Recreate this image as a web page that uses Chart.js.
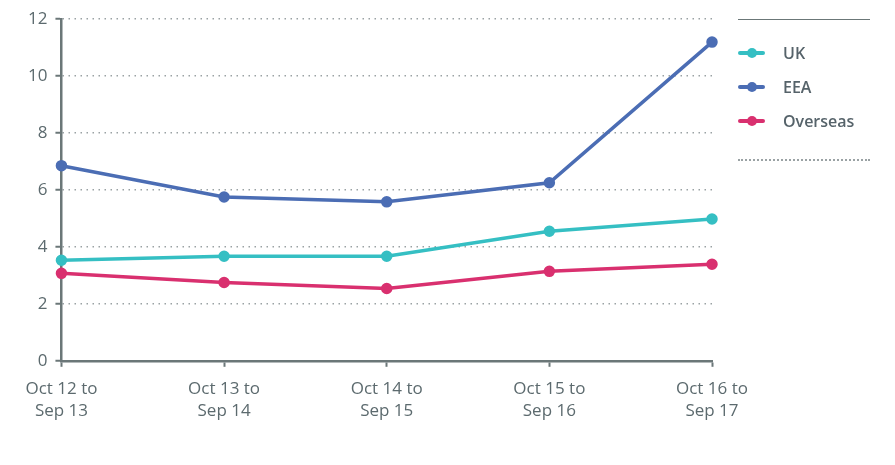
<!DOCTYPE html>
<html>
<head>
<meta charset="utf-8">
<script src="https://cdn.jsdelivr.net/npm/chart.js@4"></script>
<style>
  body { margin: 0; background: #fff; }
  #wrap { position: relative; width: 895px; height: 465px; }
  #legend { position: absolute; left: 738px; top: 19px; width: 132px; font-family: "Open Sans", sans-serif; }
  #legend .top { border-top: 1.5px solid #6b7778; height: 0; margin-bottom: 16px; }
  #legend .bottom { border-top: 2px dotted #9aa2a4; margin-top: 21px; }
  #legend .item { height: 34px; display: flex; align-items: center; font-size: 16px; font-weight: 600; color: #56636a; }
  #legend .mark { position: relative; width: 27px; height: 4px; border-radius: 2px; margin-right: 18px; }
  #legend .mark span { position: absolute; left: 9px; top: -3px; width: 10px; height: 10px; border-radius: 5px; }
</style>
</head>
<body>
<div id="wrap">
  <canvas id="lineChart1" width="895" height="465"></canvas>
  <div id="legend"></div>
</div>
<script>
const categories = [
  ["Oct 12 to", "Sep 13"],
  ["Oct 13 to", "Sep 14"],
  ["Oct 14 to", "Sep 15"],
  ["Oct 15 to", "Sep 16"],
  ["Oct 16 to", "Sep 17"],
];
const ukValues = [3.53, 3.67, 3.67, 4.55, 4.98];
const eeaValues = [6.85, 5.75, 5.58, 6.25, 11.19];
const overseasValues = [3.07, 2.75, 2.54, 3.14, 3.39];
const seriesNames = ["UK", "EEA", "Overseas"];
const seriesColors = ["#35bfc3", "#4b6db4", "#d9306f"]; // teal, blue, pink

const axisColor = "#6b7778";
const textColor = "#5c6a6e";

function makeSet(i, values) {
  return {
    label: seriesNames[i],
    data: values,
    borderColor: seriesColors[i],
    backgroundColor: seriesColors[i],
    borderWidth: 3.5,
    pointRadius: 4,
    pointHoverRadius: 5,
    tension: 0,
  };
}

const canvas = document.getElementById("lineChart1");
const chart = new Chart(canvas.getContext("2d"), {
  type: "line",
  data: {
    labels: categories,
    datasets: [
      makeSet(0, ukValues),
      makeSet(1, eeaValues),
      makeSet(2, overseasValues),
    ],
  },
  options: {
    responsive: false,
    animation: false,
    layout: { padding: { left: 20, top: 19, right: 183, bottom: 32 } },
    plugins: {
      legend: { display: false },
      tooltip: { enabled: false },
    },
    scales: {
      x: {
        offset: false,
        grid: {
          drawOnChartArea: false,
          drawTicks: true,
          tickLength: 6,
          tickColor: axisColor,
          tickWidth: 2,
        },
        border: { color: axisColor, width: 2.5 },
        ticks: {
          color: textColor,
          font: { family: "Open Sans", size: 17, lineHeight: 1.3 },
          padding: 11,
          maxRotation: 0,
          autoSkip: false,
        },
      },
      y: {
        min: 0,
        max: 12,
        ticks: {
          stepSize: 2,
          color: textColor,
          font: { family: "Open Sans", size: 17 },
          padding: 8,
        },
        grid: {
          color: (ctx) => (ctx.tick && ctx.tick.value === 0 ? "rgba(0,0,0,0)" : "#9aa2a4"),
          lineWidth: 1.5,
          tickLength: 6,
          tickColor: axisColor,
          tickWidth: 2,
          tickBorderDash: [],
        },
        border: { color: axisColor, width: 2.5, dash: [1.5, 4.5] },
      },
    },
  },
});

// legend
const legend = document.getElementById("legend");
let html = '<div class="top"></div>';
seriesNames.forEach((name, i) => {
  html += `<div class="item"><div class="mark" style="background:${seriesColors[i]}"><span style="background:${seriesColors[i]}"></span></div>${name}</div>`;
});
html += '<div class="bottom"></div>';
legend.innerHTML = html;
</script>
</body>
</html>
